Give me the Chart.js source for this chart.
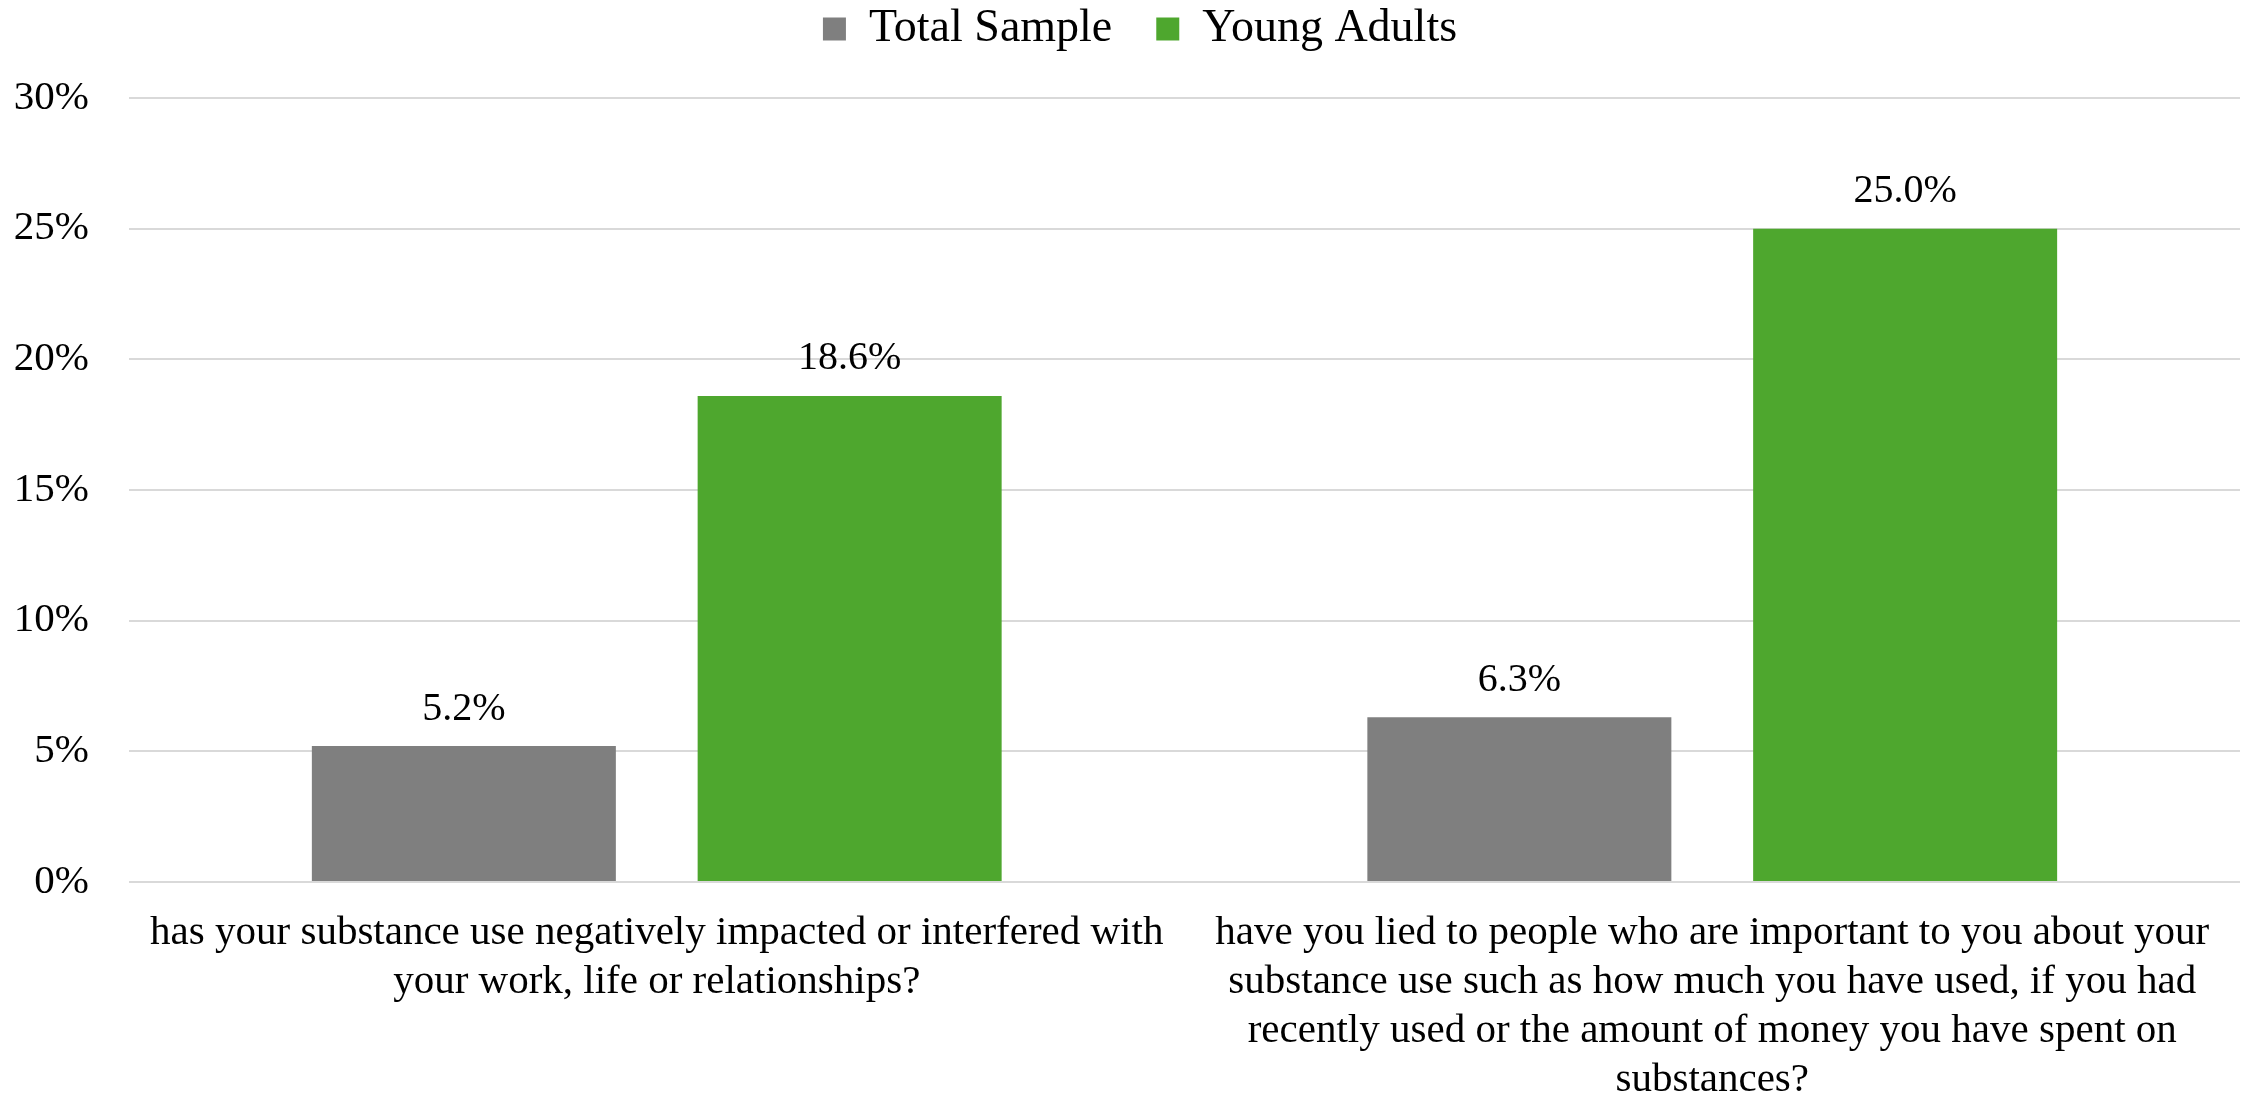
<!DOCTYPE html>
<html>
<head>
<meta charset="utf-8">
<title>Substance use</title>
<script src="https://cdn.jsdelivr.net/npm/chart.js@4.4.1/dist/chart.umd.min.js"></script>
<style>
  html, body { margin: 0; padding: 0; background: #fff; }
  #wrap { width: 2252px; height: 1093px; position: relative; }
</style>
</head>
<body>
<div id="wrap"><canvas id="chart"></canvas></div>
<script>
// data
const categories = [
  ["has your substance use negatively impacted or interfered with", "your work, life or relationships?"],
  ["have you lied to people who are important to you about your",
   "substance use such as how much you have used, if you had",
   "recently used or the amount of money you have spent on",
   "substances?"]
];
const seriesNames = ["Total Sample", "Young Adults"];
const totalSample = [5.2, 6.3];
const youngAdults = [18.6, 25.0];
const yTicks = [0, 5, 10, 15, 20, 25, 30];

const serif = '"Liberation Serif", "Times New Roman", serif';

// value labels above each bar
const valueLabels = {
  id: "valueLabels",
  afterDatasetsDraw(chart) {
    const ctx = chart.ctx;
    ctx.save();
    ctx.font = "40px " + serif;
    ctx.fillStyle = "#000";
    ctx.textAlign = "center";
    ctx.textBaseline = "middle";
    chart.data.datasets.forEach((ds, i) => {
      chart.getDatasetMeta(i).data.forEach((bar, j) => {
        ctx.fillText(ds.data[j].toFixed(1) + "%", bar.x, bar.y - 37);
      });
    });
    ctx.restore();
  },
};

// more room under the legend, and nudge it a bit to the right
const legendTweak = {
  id: "legendTweak",
  beforeInit(chart) {
    const legend = chart.legend;
    const fit = legend.fit;
    legend.fit = function () {
      fit.apply(this, arguments);
      this.height += 36;
    };
    const draw = legend.draw;
    legend.draw = function () {
      this.ctx.save();
      this.ctx.translate(20, 0);
      draw.apply(this, arguments);
      this.ctx.restore();
    };
  },
};

new Chart(document.getElementById("chart"), {
  type: "bar",
  data: {
    labels: categories,
    datasets: [
      {
        label: seriesNames[0],
        data: totalSample,
        backgroundColor: "#7f7f7f",
        categoryPercentage: 0.731,
        barPercentage: 0.788,
      },
      {
        label: seriesNames[1],
        data: youngAdults,
        backgroundColor: "#4ea72e",
        categoryPercentage: 0.731,
        barPercentage: 0.788,
      },
    ],
  },
  options: {
    responsive: true,
    maintainAspectRatio: false,
    animation: false,
    layout: { padding: { top: -38, right: 12, bottom: 0, left: 0 } },
    plugins: {
      legend: {
        position: "top",
        labels: {
          color: "#000",
          font: { family: serif, size: 46 },
          boxWidth: 23,
          boxHeight: 23,
          padding: 44,
        },
      },
      tooltip: { enabled: false },
    },
    scales: {
      x: {
        grid: { display: false },
        border: { display: false },
        ticks: {
          color: "#000",
          font: { family: serif, size: 41, lineHeight: "49px" },
          padding: 19,
          maxRotation: 0,
          autoSkip: false,
        },
        afterFit: (scale) => {
          scale.height = 211;
        },
      },
      y: {
        min: yTicks[0],
        max: yTicks[yTicks.length - 1],
        grid: { color: "#d9d9d9", lineWidth: 2, drawTicks: false },
        border: { display: false },
        afterBuildTicks: (scale) => {
          scale.ticks = yTicks.map((v) => ({ value: v }));
        },
        ticks: {
          color: "#000",
          font: { family: serif, size: 41 },
          padding: 40,
          callback: (v) => v + "%",
        },
        afterFit: (scale) => {
          scale.width = 129;
        },
      },
    },
  },
  plugins: [valueLabels, legendTweak],
});
</script>
</body>
</html>
